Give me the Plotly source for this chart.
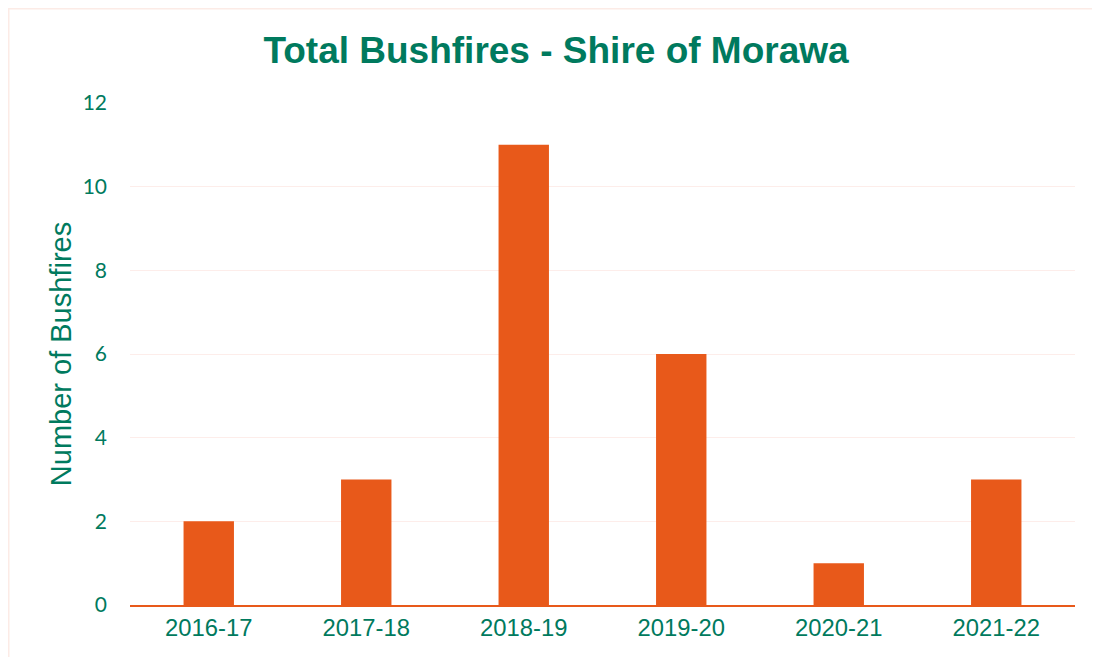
import plotly.graph_objects as go

years = ["2016-17", "2017-18", "2018-19", "2019-20", "2020-21", "2021-22"]
bushfires = [2, 3, 11, 6, 1, 3]
y_ticks = [0, 2, 4, 6, 8, 10, 12]

GREEN = "#007A5E"
ORANGE = "#E8591A"

fig = go.Figure()
fig.add_trace(go.Bar(x=years, y=bushfires, marker=dict(color=ORANGE, line=dict(width=0)),
                     width=0.32))

# page body has an 8px margin, so the figure is sized/positioned to compensate
W, H = 1092, 649
L, R, T, B = 122, 25, 95, 52
pw, ph = W - L - R, H - T - B

fig.update_layout(
    width=W, height=H,
    margin=dict(l=L, r=R, t=T, b=B),
    paper_bgcolor="white", plot_bgcolor="white",
    showlegend=False,
    title=dict(text="<b>Total Bushfires - Shire of Morawa</b>",
               font=dict(family="Liberation Sans, Arial", size=37, color=GREEN),
               x=548 / W, xanchor="center", y=1 - 42 / H, yanchor="middle"),
    xaxis=dict(tickfont=dict(family="Liberation Sans, Arial", size=23.8, color=GREEN),
               showgrid=False, showline=True, linecolor=ORANGE, linewidth=2,
               ticks="", range=[-0.5, 5.5]),
    yaxis=dict(range=[0, 12], tickvals=y_ticks,
               tickfont=dict(family="Lato, Carlito, sans-serif", size=21, color=GREEN),
               gridcolor="#FDEDEA", gridwidth=1, zeroline=False,
               ticks="", ticklabelstandoff=22,
               title=dict(text="Number of Bushfires",
                          font=dict(family="Liberation Sans, Arial", size=29, color=GREEN),
                          standoff=2)),
    shapes=[dict(type="rect", xref="paper", yref="paper",
                 x0=(0.75 - L) / pw, x1=(1110 - L) / pw,
                 y0=(H - B - 670) / ph, y1=(H - B - 0.75) / ph,
                 line=dict(color="#FCEBE6", width=1.5), fillcolor="rgba(0,0,0,0)",
                 layer="below")],
)

fig.write_html("out.html")
